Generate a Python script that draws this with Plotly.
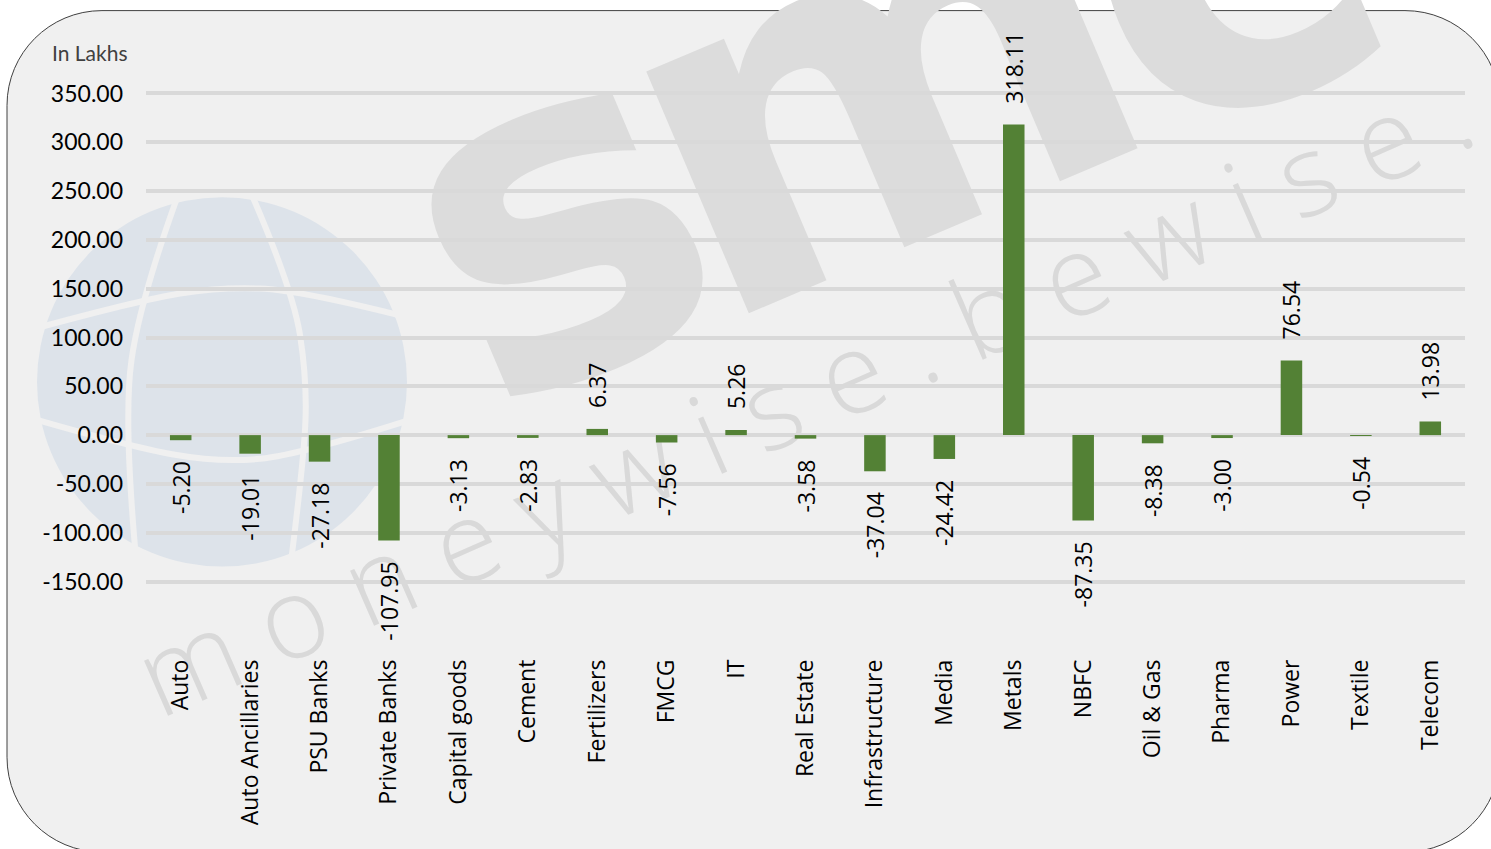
import plotly.graph_objects as go

categories = ["Auto", "Auto Ancillaries", "PSU Banks", "Private Banks", "Capital goods",
              "Cement", "Fertilizers", "FMCG", "IT", "Real Estate", "Infrastructure",
              "Media", "Metals", "NBFC", "Oil & Gas", "Pharma", "Power", "Textile", "Telecom"]
values = [-5.20, -19.01, -27.18, -107.95, -3.13, -2.83, 6.37, -7.56, 5.26, -3.58,
          -37.04, -24.42, 318.11, -87.35, -8.38, -3.00, 76.54, -0.54, 13.98]
y_ticks = [-150, -100, -50, 0, 50, 100, 150, 200, 250, 300, 350]
y_title = "In Lakhs"

W, H = 1491, 849
ML, MR, MT, MB = 146, 26, 90.55, 264.55
PW = W - ML - MR
PH = H - MT - MB


def px(x):
    return (x - ML) / PW


def py(y):
    return (H - MB - y) / PH


def pt(x, y):
    return f"{px(x):.5f},{py(y):.5f}"


pad = "\u00a0" * 3
labels = [(pad + f"{v:.2f}") if v >= 0 else (f"{v:.2f}" + pad) for v in values]

fig = go.Figure()
fig.add_trace(go.Bar(
    x=categories, y=values, text=labels, textposition="outside", textangle=-90,
    constraintext="none", cliponaxis=False,
    marker=dict(color="#538135", line=dict(width=0)),
    textfont=dict(family="Open Sans", size=23, color="#000000"),
    hoverinfo="x+y",
))

shapes = []
# rounded background card
x0, y0, x1, y1, r = 7, 10, 1500, 853, 95
k = 0.5523 * r
path = (f"M {pt(x0 + r, y0)} L {pt(x1 - r, y0)} "
        f"C {pt(x1 - r + k, y0)} {pt(x1, y0 + r - k)} {pt(x1, y0 + r)} "
        f"L {pt(x1, y1 - r)} "
        f"C {pt(x1, y1 - r + k)} {pt(x1 - r + k, y1)} {pt(x1 - r, y1)} "
        f"L {pt(x0 + r, y1)} "
        f"C {pt(x0 + r - k, y1)} {pt(x0, y1 - r + k)} {pt(x0, y1 - r)} "
        f"L {pt(x0, y0 + r)} "
        f"C {pt(x0, y0 + r - k)} {pt(x0 + r - k, y0)} {pt(x0 + r, y0)} Z")
shapes.append(dict(type="path", xref="paper", yref="paper", path=path,
                   fillcolor="#f0f0f0", line=dict(color="#404040", width=1), layer="below"))

# globe watermark
cx, cy, cr = 222, 382, 185
shapes.append(dict(type="circle", xref="paper", yref="paper",
                   x0=px(cx - cr), x1=px(cx + cr), y0=py(cy + cr), y1=py(cy - cr),
                   fillcolor="#dde3ea", line=dict(width=0), layer="below"))
globe_lines = [
    [(30, 330), (140, 300), (220, 287), (300, 290), (410, 318)],
    [(30, 418), (130, 447), (220, 463), (300, 455), (410, 420)],
    [(178, 195), (140, 300), (123, 420), (137, 570)],
    [(252, 195), (293, 290), (307, 380), (304, 460), (290, 570)],
]
for line in globe_lines:
    p = "M " + pt(*line[0])
    for i in range(1, len(line) - 1):
        mx = (line[i][0] + line[i + 1][0]) / 2
        my = (line[i][1] + line[i + 1][1]) / 2
        if i == len(line) - 2:
            p += f" Q {pt(*line[i])} {pt(*line[i + 1])}"
        else:
            p += f" Q {pt(*line[i])} {pt(mx, my)}"
    shapes.append(dict(type="path", xref="paper", yref="paper", path=p,
                       line=dict(color="#f0f0f0", width=6), layer="below"))


def text_shape(txt, cxp, cyp, size, angle, family, weight, color):
    return dict(type="rect", xref="paper", yref="paper",
                x0=px(cxp - 1), x1=px(cxp + 1), y0=py(cyp + 1), y1=py(cyp - 1),
                line=dict(width=0, color="rgba(0,0,0,0)"), fillcolor="rgba(0,0,0,0)",
                layer="below",
                label=dict(text=txt, textangle=angle, textposition="middle center",
                           font=dict(family=family, size=size, color=color, weight=weight)))


# big "smc" watermark, letter by letter
shapes.append(text_shape("s", 540, 180, 470, -23, "DejaVu Sans", "bold", "#dcdcdc"))
shapes.append(text_shape("m", 864, 46, 480, -23, "DejaVu Sans", "bold", "#dcdcdc"))
shapes.append(text_shape("c", 1204, -89, 480, -23, "DejaVu Sans", "bold", "#dcdcdc"))
# tagline watermark
shapes.append(text_shape("m o n e y w i s e . b e w i s e .", 806, 398, 113, -23.6,
                         "Open Sans", 300, "#d9d9d9"))

fig.update_layout(
    width=W, height=H,
    margin=dict(l=ML, r=MR, t=MT, b=MB, autoexpand=False),
    paper_bgcolor="#ffffff", plot_bgcolor="rgba(0,0,0,0)",
    showlegend=False, bargap=0.69,
    shapes=shapes,
    xaxis=dict(tickangle=-90, tickfont=dict(family="Open Sans", size=23, color="#000000"),
               showgrid=False, showline=False, zeroline=False, ticks="",
               ticklabelstandoff=70, fixedrange=True),
    yaxis=dict(range=[-152.5, 352.5], tickvals=y_ticks, ticktext=[f"{v:.2f}" for v in y_ticks],
               tickfont=dict(family="Lato", size=23, color="#000000"),
               showgrid=True, gridcolor="#d9d9d9", gridwidth=4, zeroline=False,
               showline=False, ticks="", ticklabelstandoff=22, fixedrange=True),
    annotations=[dict(text=y_title, xref="paper", yref="paper", x=px(50), y=py(52),
                      xanchor="left", yanchor="middle", showarrow=False,
                      font=dict(family="Lato", size=21, color="#404040"))],
)

fig.write_html("out.html", config={"displayModeBar": False},
               post_script="document.body.style.margin='0';document.body.style.overflow='hidden';")
